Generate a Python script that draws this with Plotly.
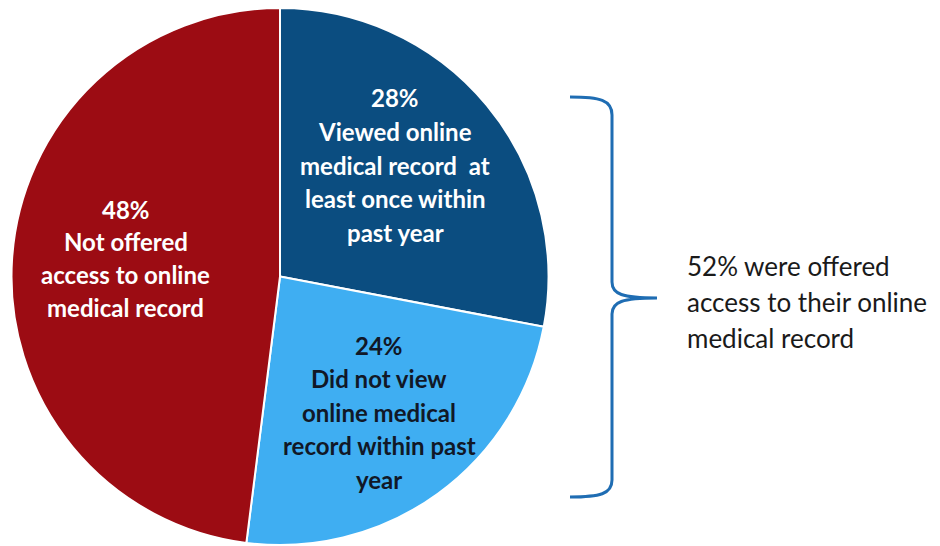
import plotly.graph_objects as go

# data
labels = ["Viewed online medical record at least once within past year",
          "Did not view online medical record within past year",
          "Not offered access to online medical record"]
values = [28, 24, 48]
colors = ["#0b4d80", "#3faef2", "#9c0c13"]

slice_lines = [
    ["28%", "Viewed online", "medical record  at", "least once within", "past year"],
    ["24%", "Did not view", "online medical", "record within past", "year"],
    ["48%", "Not offered", "access to online", "medical record"],
]
slice_text_colors = ["white", "#111827", "white"]
side_lines = ["52% were offered", "access to their online", "medical record"]

W, H = 940, 546
OFF = 8  # page body margin

def px(x):
    return (x - OFF) / W

def py(y):
    return 1 - (y - OFF) / H

fig = go.Figure()
fig.add_trace(go.Pie(
    labels=labels, values=values, sort=False, direction="clockwise", rotation=0,
    marker=dict(colors=colors, line=dict(color="white", width=2)),
    textinfo="none", hoverinfo="skip", showlegend=False,
    domain=dict(x=[px(11.5), px(548.5)], y=[py(545), 1]),
))

# label blocks: (center x, first line y, line step) in pixels
label_pos = [(395, 98, 33.5), (379, 345, 33.5), (126, 209, 32.7)]

annotations = []
for lines, col, (cx, y0, step) in zip(slice_lines, slice_text_colors, label_pos):
    for i, line in enumerate(lines):
        annotations.append(dict(
            x=px(cx), y=py(y0 + i * step), xref="paper", yref="paper",
            text="<b>" + line + "</b>", showarrow=False,
            xanchor="center", yanchor="middle",
            font=dict(family="Lato", size=24, color=col),
        ))

for i, line in enumerate(side_lines):
    annotations.append(dict(
        x=px(685), y=py(266 + i * 36), xref="paper", yref="paper",
        text=line, showarrow=False, xanchor="left", yanchor="middle",
        font=dict(family="Lato", size=26, color="#1a1a1a"),
    ))

# curly brace
brace = (
    f"M {px(570)} {py(97)} "
    f"C {px(600)} {py(97)}, {px(612)} {py(100)}, {px(612)} {py(115)} "
    f"L {px(612)} {py(282)} "
    f"C {px(612)} {py(294)}, {px(622)} {py(298)}, {px(657)} {py(298)} "
    f"C {px(622)} {py(298)}, {px(612)} {py(302)}, {px(612)} {py(314)} "
    f"L {px(612)} {py(480)} "
    f"C {px(612)} {py(494)}, {px(600)} {py(497)}, {px(570)} {py(497)}"
)

fig.update_layout(
    width=W, height=H,
    margin=dict(l=0, r=0, t=0, b=0),
    paper_bgcolor="white", plot_bgcolor="white",
    annotations=annotations,
    shapes=[dict(type="path", path=brace, xref="paper", yref="paper",
                 line=dict(color="#1f6db3", width=3))],
)

fig.write_html("out.html")
